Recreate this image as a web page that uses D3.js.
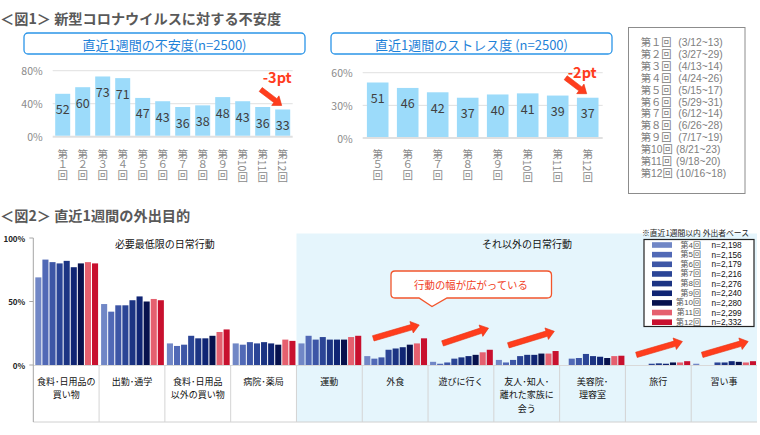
<!DOCTYPE html>
<html><head><meta charset="utf-8">
<script src="https://cdn.jsdelivr.net/npm/d3@7/dist/d3.min.js"></script>
<style>
body{margin:0;background:#fff;}
svg{display:block;font-family:"Noto Sans CJK JP","Noto Sans",sans-serif;}
.lat{font-family:"Liberation Sans","Noto Sans CJK JP",sans-serif;}
</style>
</head><body>
<svg id="c" width="760" height="435"></svg>
<script>
// ---------- DATA ----------
const anxietyRounds = ["１","２","３","４","５","６","７","８","９","10","11","12"];
const anxietyValues = [52,60,73,71,47,43,36,38,48,43,36,33];
const anxietyTicks = [0,40,80];
const stressRounds = ["５","６","７","８","９","10","11","12"];
const stressValues = [51,46,42,37,40,41,39,37];
const stressTicks = [0,30,60];
const surveyRoundLabels = ["第１回","第２回","第３回","第４回","第５回","第６回","第７回","第８回","第９回","第10回","第11回","第12回"];
const surveyDates = ["(3/12~13)","(3/27~29)","(4/13~14)","(4/24~26)","(5/15~17)","(5/29~31)","(6/12~14)","(6/26~28)","(7/17~19)","(8/21~23)","(9/18~20)","(10/16~18)"];

const purposeCategories = ["食料・日用品の買い物","出勤・通学","食料・日用品以外の買い物","病院・薬局","運動","外食","遊びに行く","友人・知人・離れた家族に会う","美容院・理容室","旅行","習い事"];
const purposeLabelLines = [["食料･日用品の","買い物"],["出勤･通学"],["食料･日用品","以外の買い物"],["病院･薬局"],["運動"],["外食"],["遊びに行く"],["友人･知人･","離れた家族に","会う"],["美容院･","理容室"],["旅行"],["習い事"]];
const purposeRounds = ["第4回","第5回","第6回","第7回","第8回","第9回","第10回","第11回","第12回"];
const purposeN = ["n=2,198","n=2,156","n=2,179","n=2,216","n=2,276","n=2,240","n=2,280","n=2,299","n=2,332"];
const round4  = [69,48,17,17,17, 7,2.5,4,null,null,1];
const round5  = [83,42,15,16,23, 5,1,  2,5,   null,null];
const round6  = [81,47,16,18,20, 6,2,  4,5.5, null,null];
const round7  = [80,47,23,17,22,12,5,  7,8.7, 1,  2];
const round8  = [82,51,21,18,20,13,6,  8,7,   1.3,2];
const round9  = [77,54,21,17,20,14,7,  8,6.5, 1,  3];
const round10 = [80,50,23,16,20,16,8,  9,5.5, 2,  2.5];
const round11 = [81,52,26,20,22,17,10, 9,7,   2,  2];
const round12 = [80,51,28,19,23,21,12,11,7.3, 3,  3];
const purposeTicks = [0,50,100];
const groupHeaders = ["必要最低限の日常行動","それ以外の日常行動"];
const trendArrowCats = ["外食","遊びに行く","友人・知人・離れた家族に会う","旅行","習い事"];
const trendArrowFrom = [21,17,15.5,8,8];
const trendArrowTo   = [31.5,29,26.5,18.5,18.5];

// ---------- STYLE ----------
const roundColors = ["#7187c6","#5169b6","#3d56a6","#2b4596","#1c3483","#102574","#07114d","#e5606f","#c8102e"];
const ORANGE = "#ff3d1d";
const svg = d3.select("#c");

function arrowPoly(x1,y1,x2,y2,bw,hw,hl){
  const dx=x2-x1, dy=y2-y1, L=Math.hypot(dx,dy), ux=dx/L, uy=dy/L, nx=-uy, ny=ux;
  const bx=x2-ux*hl, by=y2-uy*hl;
  return [[x1+nx*bw/2,y1+ny*bw/2],[bx+nx*bw/2,by+ny*bw/2],[bx+nx*hw/2,by+ny*hw/2],[x2,y2],
          [bx-nx*hw/2,by-ny*hw/2],[bx-nx*bw/2,by-ny*bw/2],[x1-nx*bw/2,y1-ny*bw/2]].map(p=>p.join(",")).join(" ");
}
function drawArrow(g,x1,y1,x2,y2,bw,hw,hl){
  g.append("polygon").attr("points",arrowPoly(x1,y1,x2,y2,bw,hw,hl))
   .attr("fill",ORANGE).attr("stroke","#e8300f").attr("stroke-width",0.6).attr("stroke-linejoin","round");
}

// ---------- TITLES ----------
svg.append("text").attr("x",0).attr("y",24).attr("font-size",14.2).attr("font-weight","bold").attr("fill","#595959")
  .text("＜図1＞ 新型コロナウイルスに対する不安度");
svg.append("text").attr("x",0).attr("y",221).attr("font-size",14.2).attr("font-weight","bold").attr("fill","#595959")
  .text("＜図2＞ 直近1週間の外出目的");

// ---------- SMALL BAR CHARTS ----------
function smallChart(o){
  const g = svg.append("g");
  g.append("rect").attr("x",o.boxX).attr("y",33).attr("width",o.boxW).attr("height",21).attr("rx",4)
   .attr("fill","#fff").attr("stroke","#2b95e8").attr("stroke-width",1.3);
  g.append("text").attr("x",o.boxX+o.boxW/2).attr("y",44).attr("text-anchor","middle").attr("dominant-baseline","central")
   .attr("font-size",13).attr("fill","#1f82d8").text(o.title);
  const x = d3.scaleBand().domain(o.rounds).range([o.x0,o.x1]).paddingInner(o.pad).paddingOuter(o.pad/2);
  const y = d3.scaleLinear().domain([0,o.ticks[2]]).range([o.yb,o.yt]);
  g.selectAll(".grid").data(o.ticks).join("line")
   .attr("x1",o.x0).attr("x2",o.x1).attr("y1",d=>y(d)).attr("y2",d=>y(d))
   .attr("stroke","#e0e0e0").attr("stroke-width",d=>d===0?2:1);
  g.selectAll(".tl").data(o.ticks).join("text")
   .attr("x",o.x0-10).attr("y",d=>y(d)).attr("text-anchor","end").attr("dominant-baseline","central")
   .attr("font-size",10.5).attr("fill","#8a8a8a").text(d=>d+"%");
  g.selectAll(".bar").data(o.values).join("rect")
   .attr("x",(d,i)=>x(o.rounds[i])).attr("width",x.bandwidth())
   .attr("y",d=>y(d)).attr("height",d=>y(0)-1-y(d)).attr("fill","#9cdbfa");
  g.selectAll(".vl").data(o.values).join("text")
   .attr("x",(d,i)=>x(o.rounds[i])+x.bandwidth()/2).attr("y",d=>y(d)+15)
   .attr("text-anchor","middle").attr("dominant-baseline","central").attr("font-size",12.5).attr("fill","#404040")
   .text(d=>d);
  g.selectAll(".xl").data(o.rounds).join("text")
   .attr("x",r=>x(r)+x.bandwidth()/2).attr("y",r=>r.length>1?165.5:164.5)
   .attr("text-anchor","middle").attr("writing-mode","vertical-rl").style("writing-mode","vertical-rl")
   .attr("font-size",10.5).attr("fill","#8a8a8a").text(r=>"第"+r+"回");
  const last = o.rounds[o.rounds.length-1];
  const lx = x(last)+x.bandwidth()/2, ly = y(o.values[o.values.length-1]);
  g.append("text").attr("x",lx+9).attr("y",o.labY).attr("text-anchor","end").attr("dominant-baseline","central")
   .attr("font-size",14.5).attr("font-weight","bold").attr("fill",ORANGE).text(o.note);
  drawArrow(g,lx-22,ly-20,lx-1,ly-4,5,12,8);
}
smallChart({title:"直近1週間の不安度(n=2500)",boxX:24,boxW:281,rounds:anxietyRounds,values:anxietyValues,ticks:anxietyTicks,
  x0:52.7,x1:292.7,pad:0.25,yb:136.7,yt:70.7,note:"-3pt",labY:76});
smallChart({title:"直近1週間のストレス度 (n=2500)",boxX:331,boxW:281,rounds:stressRounds,values:stressValues,ticks:stressTicks,
  x0:362.7,x1:602.7,pad:0.28,yb:138,yt:72.7,note:"-2pt",labY:71.5});

// survey date legend
{
  const g = svg.append("g");
  g.append("rect").attr("x",628.5).attr("y",27.5).attr("width",116.5).attr("height",166).attr("fill","#fff").attr("stroke","#8c8c8c");
  surveyRoundLabels.forEach((s,i)=>{
    const yy = 42.7 + i*11.87;
    g.append("text").attr("class","lat").attr("x",640.7).attr("y",yy).attr("dominant-baseline","central").attr("font-size",10.3).attr("fill","#808080").text(s);
    g.append("text").attr("class","lat").attr("x",i<9?678.3:676).attr("y",yy).attr("dominant-baseline","central").attr("font-size",10.3).attr("fill","#808080").text(surveyDates[i]);
  });
}

// ---------- PURPOSE CHART ----------
{
  const g = svg.append("g");
  const X0 = 33.3, X1 = 757, YB = 365, YT = 238, CELLB = 422;
  const gx = d3.scaleBand().domain(purposeCategories).range([X0,X1]);
  const bx = d3.scaleBand().domain(purposeRounds).range([1.5,1.5+gx.bandwidth()-2]).paddingInner(1/7).paddingOuter(1/14);
  const y = d3.scaleLinear().domain([0,100]).range([YB,YT]);
  const series = [round4,round5,round6,round7,round8,round9,round10,round11,round12];

  const sx = gx(purposeCategories[4]);
  g.append("rect").attr("x",sx).attr("y",233.5).attr("width",X1-sx).attr("height",CELLB-233.5).attr("fill","#e5f5fc");

  g.append("text").attr("x",(gx(purposeCategories[0])+sx)/2).attr("y",243).attr("text-anchor","middle")
   .attr("dominant-baseline","central").attr("font-size",10).attr("fill","#111").text(groupHeaders[0]);
  g.append("text").attr("x",527).attr("y",243).attr("text-anchor","middle")
   .attr("dominant-baseline","central").attr("font-size",10).attr("fill","#111").text(groupHeaders[1]);

  series.forEach((vals,si)=>{
    g.append("g").selectAll("rect").data(vals.map((v,ci)=>({v,c:purposeCategories[ci]})).filter(d=>d.v!==null))
     .join("rect")
     .attr("x",d=>gx(d.c)+bx(purposeRounds[si])).attr("width",bx.bandwidth())
     .attr("y",d=>y(d.v)).attr("height",d=>YB-y(d.v)).attr("fill",roundColors[si]);
  });

  g.append("line").attr("x1",X0).attr("x2",X1).attr("y1",YB+0.5).attr("y2",YB+0.5).attr("stroke","#d9d9d9");
  g.append("line").attr("x1",X0).attr("x2",X1).attr("y1",CELLB).attr("y2",CELLB).attr("stroke","#d0d0d0");
  g.selectAll(".div").data(purposeCategories.slice(1)).join("line")
   .attr("x1",d=>gx(d)).attr("x2",d=>gx(d)).attr("y1",YB).attr("y2",CELLB).attr("stroke","#d4d4d4");
  g.append("line").attr("x1",X0).attr("x2",X0).attr("y1",YT).attr("y2",CELLB).attr("stroke","#a6a6a6");
  g.selectAll(".tk").data(purposeTicks).join("line").attr("x1",X0-4).attr("x2",X0).attr("y1",d=>y(d)).attr("y2",d=>y(d)).attr("stroke","#a6a6a6");
  g.selectAll(".tkl").data(purposeTicks).join("text").attr("x",X0-8).attr("y",d=>y(d)).attr("text-anchor","end")
   .attr("dominant-baseline","central").attr("font-size",8).attr("font-weight","bold").attr("fill","#222").text(d=>d+"%");

  purposeCategories.forEach((c,i)=>{
    purposeLabelLines[i].forEach((ln,j)=>{
      g.append("text").attr("x",gx(c)+gx.bandwidth()/2).attr("y",381+j*13.5).attr("text-anchor","middle")
       .attr("dominant-baseline","central").attr("font-size",9).attr("fill","#111").text(ln);
    });
  });

  const cg = g.append("g");
  cg.append("path").attr("d","M395,271 H547 Q551.5,271 551.5,275 V294 Q551.5,298 547,298 H447 L432,306.5 L419,298 H395 Q391,298 391,294 V275 Q391,271 395,271 Z")
    .attr("fill","#fff").attr("stroke","#f2552c").attr("stroke-width",1.3);
  cg.append("text").attr("x",471).attr("y",284.5).attr("text-anchor","middle").attr("dominant-baseline","central")
    .attr("font-size",10.4).attr("fill","#f0401e").text("行動の幅が広がっている");

  trendArrowCats.forEach((c,i)=>{
    const x0 = gx(c)+ (i<3 && i>0 ? 14.5 : 11);
    drawArrow(g,x0,y(trendArrowFrom[i]),x0+46,y(trendArrowTo[i]),5.5,12,8);
  });

  const lg = g.append("g");
  lg.append("text").attr("x",642).attr("y",232.5).attr("dominant-baseline","central").attr("font-size",7.8).attr("fill","#222")
    .text("※直近1週間以内 外出者ベース");
  lg.append("rect").attr("x",644).attr("y",239.5).attr("width",110).attr("height",87).attr("fill","#fff")
    .attr("stroke","#222").attr("stroke-width",1.2);
  purposeRounds.forEach((r,i)=>{
    const yy = 245 + i*9.65;
    lg.append("rect").attr("x",652).attr("y",yy-2.8).attr("width",20).attr("height",5.6).attr("fill",roundColors[i]);
    lg.append("text").attr("class","lat").attr("x",701).attr("y",yy).attr("text-anchor","end").attr("dominant-baseline","central")
      .attr("font-size",8).attr("fill","#555").text(r);
    lg.append("text").attr("class","lat").attr("x",711.5).attr("y",yy).attr("dominant-baseline","central")
      .attr("font-size",8.3).attr("fill","#111").text(purposeN[i]);
  });
}
</script>
</body></html>
